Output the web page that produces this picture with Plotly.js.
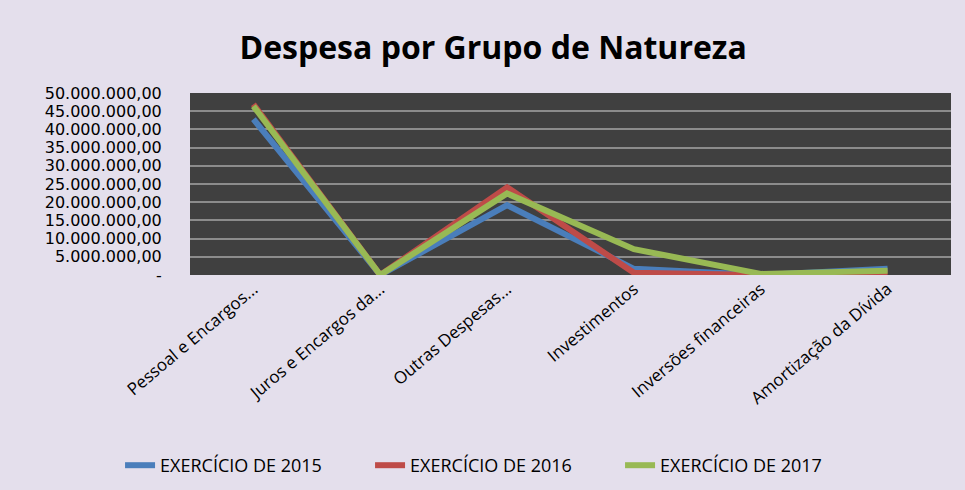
<!DOCTYPE html>
<html><head><meta charset="utf-8">
<script src="https://cdn.plot.ly/plotly-3.0.1.min.js"></script>
<style>html,body{margin:0;padding:0;background:#E4DFEC;}#chart{width:965px;height:490px;}</style>
</head><body><div id="chart"></div>
<script>
const categories = ["Pessoal e Encargos...", "Juros e Encargos da...", "Outras Despesas...", "Investimentos", "Inversões financeiras", "Amortização da Dívida"];
const series2015 = [42800000, 0, 19200000, 1700000, 0, 1700000];
const series2016 = [46900000, 0, 24100000, 600000, 0, 600000];
const series2017 = [46400000, 0, 22400000, 7100000, 300000, 1200000];
const seriesNames = ["EXERCÍCIO DE 2015", "EXERCÍCIO DE 2016", "EXERCÍCIO DE 2017"];
const yTickVals = [0, 5000000, 10000000, 15000000, 20000000, 25000000, 30000000, 35000000, 40000000, 45000000, 50000000];
const yTickText = ["-", "5.000.000,00", "10.000.000,00", "15.000.000,00", "20.000.000,00", "25.000.000,00", "30.000.000,00", "35.000.000,00", "40.000.000,00", "45.000.000,00", "50.000.000,00"];
const colors = ["#4A7EBB", "#BE4B48", "#98B954"];

const allSeries = [series2015, series2016, series2017];
const traces = allSeries.map((s, i) => ({
  type: "scatter", mode: "lines", x: categories, y: s, name: seriesNames[i],
  line: {color: colors[i], width: 6}, cliponaxis: false
}));

const layout = {
  width: 965, height: 490,
  paper_bgcolor: "#E4DFEC", plot_bgcolor: "#404040",
  margin: {l: 190, r: 14, t: 93, b: 215},
  font: {family: "Open Sans, sans-serif", color: "#000"},
  title: {text: "<b>Despesa por Grupo de Natureza</b>", font: {size: 32, color: "#000", family: "Open Sans, sans-serif"},
          x: 0.511, xanchor: "center", y: 0.902, yanchor: "middle", yref: "container"},
  xaxis: {type: "category", tickangle: -40, tickfont: {size: 17}, showgrid: false, zeroline: false,
          showline: false, ticks: "", range: [-0.5, 5.5]},
  yaxis: {range: [0, 50000000], tickvals: yTickVals, ticktext: yTickText, tickfont: {size: 16, family: "DejaVu Sans, sans-serif"},
          gridcolor: "#8C8C8C", gridwidth: 2, zeroline: false, showline: false, ticks: "outside", ticklen: 24, tickcolor: "rgba(0,0,0,0)"},
  showlegend: true,
  legend: {orientation: "h", xref: "container", yref: "container", x: 0.513, xanchor: "center", y: 0.05, yanchor: "middle",
           font: {size: 18}, bgcolor: "rgba(0,0,0,0)", entrywidth: 205, entrywidthmode: "pixels"}
};
Plotly.newPlot("chart", traces, layout, {displayModeBar: false, staticPlot: true});
</script></body></html>
